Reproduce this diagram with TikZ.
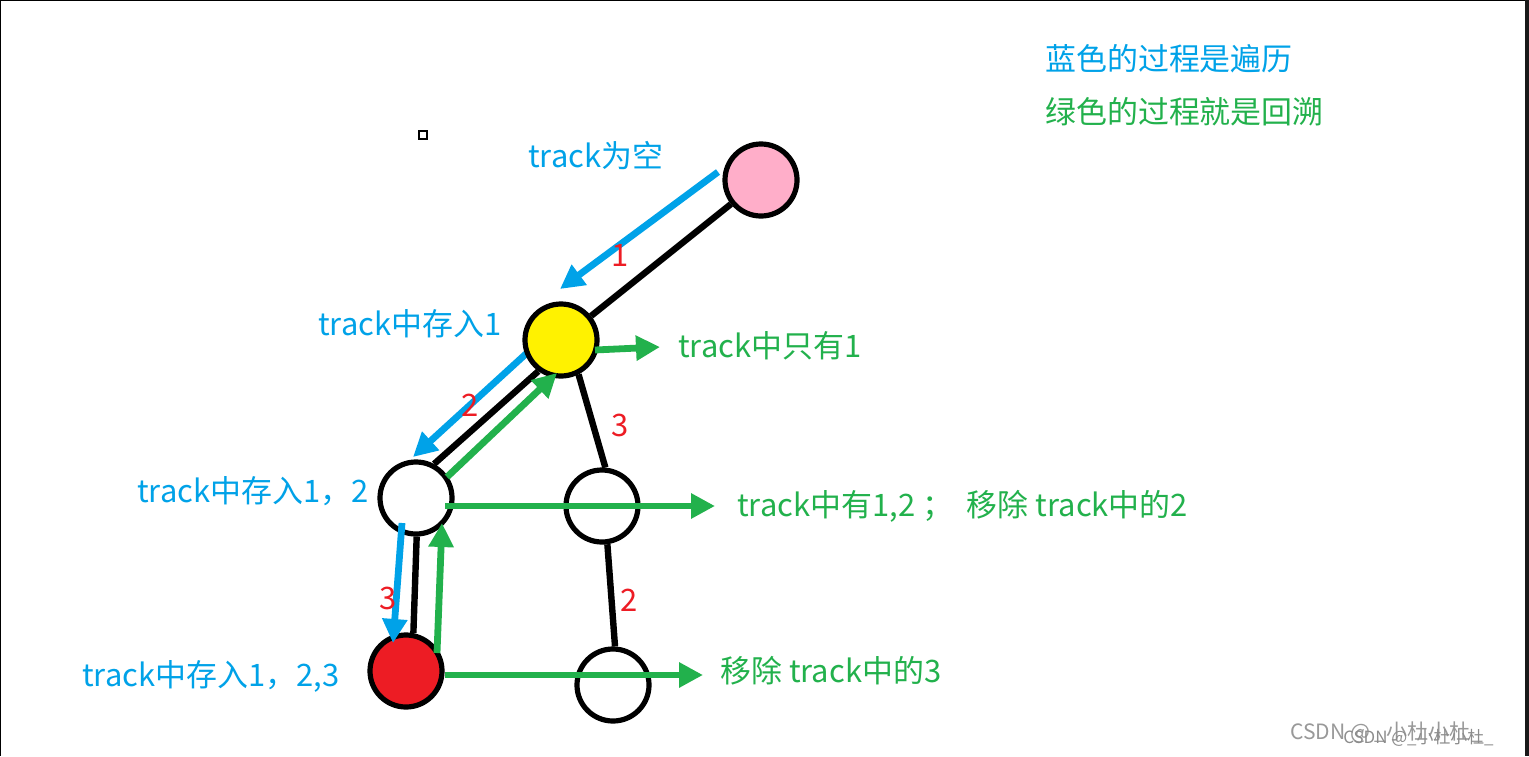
\documentclass[tikz,border=0pt]{standalone}
\usepackage{fontspec}
\setmainfont{Noto Sans CJK SC}
\usepackage{xcolor}
\usepackage{tikz}
\usetikzlibrary{positioning,arrows.meta}
\definecolor{pathblue}{RGB}{0,162,232}
\definecolor{backgreen}{RGB}{34,177,76}
\definecolor{numred}{RGB}{237,28,36}
\definecolor{rootpink}{RGB}{255,174,201}
\definecolor{nodeyellow}{RGB}{255,242,0}

\begin{document}
\begin{tikzpicture}[x=0.025cm,y=-0.025cm,
  vert/.style={circle, draw=black, line width=0.13cm, minimum size=1.8cm, inner sep=0pt, fill=white},
  edge/.style={line width=0.16cm, black},
  blue arrow/.style={line width=0.17cm, pathblue, -{Triangle[length=0.6cm,width=0.6cm]}},
  green arrow/.style={line width=0.17cm, backgreen, -{Triangle[length=0.6cm,width=0.6cm]}},
  bluetext/.style={anchor=west, inner sep=0pt, text=pathblue, font=\fontsize{22}{26}\selectfont},
  greentext/.style={anchor=west, inner sep=0pt, text=backgreen, font=\fontsize{22}{26}\selectfont},
  num/.style={inner sep=0pt, text=numred, font=\fontsize{22}{26}\selectfont}]
  \useasboundingbox (0,0) rectangle (1529,756);
  \fill[white] (0,0) rectangle (1529,756);
  \draw[line width=0.05cm] (0,756) -- (0,0) -- (1529,0);
  \fill[black!90] (1525,0) rectangle (1529,756);

  % arrow end points
  \coordinate (b1s) at (718,172);  \coordinate (b1e) at (560,289);
  \coordinate (b2s) at (528,352);  \coordinate (b2e) at (413,457);
  \coordinate (b3s) at (402,523);  \coordinate (b3e) at (393,643);
  \coordinate (g1s) at (447,477);  \coordinate (g1e) at (557,373);
  \coordinate (g2s) at (437,653);  \coordinate (g2e) at (442,523);
  \coordinate (h1s) at (595,350);  \coordinate (h1e) at (660,347);
  \coordinate (h2s) at (445,506);  \coordinate (h2e) at (715,506);
  \coordinate (h3s) at (445,675);  \coordinate (h3e) at (703,675);

  \draw[blue arrow](b2s)--(b2e);

  \node[vert,fill=rootpink](root) at (761,180){};
  \node[vert,fill=nodeyellow](one) at (561,340){};
  \node[vert](two) at (416,498){};
  \node[vert](three) at (602,506){};
  \node[vert,fill=numred](twothree) at (406,671){};
  \node[vert](threetwo) at (613,685){};

  \draw[edge](root)--(one);
  \draw[edge](one.234)--(two.62);
  \draw[edge](one.297)--(three.85);
  \draw[edge](two.271)--(twothree.79);
  \draw[edge](three.278)--(threetwo.87);

  \draw[blue arrow](b1s)--(b1e);
  \draw[blue arrow](b3s)--(b3e);
  \draw[green arrow](g1s)--(g1e);
  \draw[green arrow](g2s)--(g2e);
  \draw[green arrow](h1s)--(h1e);
  \draw[green arrow](h2s)--(h2e);
  \draw[green arrow](h3s)--(h3e);

  \node[num](n1) at (620,255){1};
  \node[num](n2) at (470,405){2};
  \node[num](n3) at (620,425){3};
  \node[num](n3b) at (388,598){3};
  \node[num](n2b) at (629,600){2};

  \node[bluetext](empty) at (528,156){track为空};
  \node[bluetext](has1) at (318,324){track中存入1};
  \node[bluetext](has12) at (137,491){track中存入1，2};
  \node[bluetext](has123) at (82,676){track中存入1，2,3};
  \node[greentext](only1) at (678,346){track中只有1};
  \node[greentext](rm2) at (737,506){track中有1,2 ；\ \ 移除 track中的2};
  \node[greentext](rm3) at (720,671){移除 track中的3};

  \node[bluetext](legblue) at (1045,59){蓝色的过程是遍历};
  \node[greentext](leggreen) at (1045,112){绿色的过程就是回溯};

  \node[draw, line width=0.03cm, minimum size=0.2cm, inner sep=0pt](mark) at (423,135){};
  \node[anchor=west, inner sep=0pt, text=black!40, font=\fontsize{15}{18}\selectfont](wm) at (1290,732){CSDN @ \_小杜小杜\_};
  \node[anchor=west, inner sep=0pt, text=black!45, font=\fontsize{12}{14}\selectfont](wm2) at (1343,738){CSDN @\_小杜小杜\_};
\end{tikzpicture}
\end{document}
